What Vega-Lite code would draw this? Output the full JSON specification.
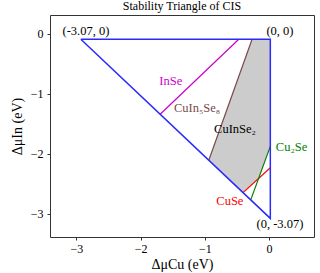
{
  "$schema": "https://vega.github.io/schema/vega-lite/v6.json",
  "autosize": "none",
  "width": 264,
  "height": 222,
  "padding": {"left": 50, "top": 15, "right": 6, "bottom": 36},
  "title": {"text": "Stability Triangle of CIS", "font": "Liberation Serif", "fontSize": 12, "fontWeight": "normal", "color": "#000", "offset": 2},
  "config": {"view": {"stroke": "#333", "strokeWidth": 1}, "font": "Liberation Serif"},
  "datasets": {
    "region": [
      {"x": -0.264, "y": -0.095, "o": 1},
      {"x": 0.02, "y": -0.095, "o": 2},
      {"x": 0.02, "y": -1.88, "o": 3},
      {"x": -0.16, "y": -2.411, "o": 4},
      {"x": -0.404, "y": -2.651, "o": 5},
      {"x": -0.938, "y": -2.11, "o": 6},
      {"x": -0.264, "y": -0.095, "o": 7}
    ],
    "lines": [
      {"seg": "InSe", "x": -1.695, "y": -1.345, "o": 1},
      {"seg": "InSe", "x": -0.471, "y": -0.095, "o": 2},
      {"seg": "CuIn5Se8", "x": -0.938, "y": -2.11, "o": 1},
      {"seg": "CuIn5Se8", "x": -0.264, "y": -0.095, "o": 2},
      {"seg": "CuSe", "x": -0.404, "y": -2.651, "o": 1},
      {"seg": "CuSe", "x": 0.02, "y": -2.235, "o": 2},
      {"seg": "Cu2Se", "x": -0.285, "y": -2.771, "o": 1},
      {"seg": "Cu2Se", "x": 0.02, "y": -1.88, "o": 2}
    ],
    "triangle": [
      {"x": -2.93, "y": -0.095, "o": 1},
      {"x": 0.02, "y": -0.095, "o": 2},
      {"x": 0.02, "y": -3.08, "o": 3},
      {"x": -2.93, "y": -0.095, "o": 4}
    ],
    "labels": [
      {"label": "(-3.07, 0)", "kind": "corner", "x": -2.85, "y": 0.04},
      {"label": "(0, 0)", "kind": "corner", "x": 0.17, "y": 0.04},
      {"label": "(0, -3.07)", "kind": "corner", "x": 0.17, "y": -3.18},
      {"label": "InSe", "kind": "InSe", "x": -1.53, "y": -0.795},
      {"label": "CuIn₅Se₈", "kind": "CuIn5Se8", "x": -1.12, "y": -1.245},
      {"label": "CuInSe₂", "kind": "CuInSe2", "x": -0.53, "y": -1.595},
      {"label": "Cu₂Se", "kind": "Cu2Se", "x": 0.35, "y": -1.89},
      {"label": "CuSe", "kind": "CuSe", "x": -0.61, "y": -2.79}
    ]
  },
  "layer": [
    {
      "data": {"name": "region"},
      "mark": {"type": "line", "fill": "#cccccc", "stroke": null, "strokeWidth": 0},
      "encoding": {
        "x": {"field": "x", "type": "quantitative", "scale": {"domain": [-3.41, 0.7], "nice": false, "zero": false},
              "axis": {"values": [-3, -2, -1, 0], "format": "d", "title": "ΔμCu (eV)", "titleFont": "Liberation Serif", "titleFontSize": 14, "titleFontWeight": "normal", "titleColor": "#000", "labelFont": "Liberation Serif", "labelFontSize": 12, "labelColor": "#000", "grid": false, "domain": false, "tickSize": 3, "tickColor": "#333", "labelPadding": 3, "titlePadding": 3}},
        "y": {"field": "y", "type": "quantitative", "scale": {"domain": [-3.39, 0.31], "nice": false, "zero": false},
              "axis": {"values": [-3, -2, -1, 0], "format": "d", "title": "ΔμIn (eV)", "titleFont": "Liberation Serif", "titleFontSize": 14, "titleFontWeight": "normal", "titleColor": "#000", "labelFont": "Liberation Serif", "labelFontSize": 12, "labelColor": "#000", "grid": false, "domain": false, "tickSize": 3, "tickColor": "#333", "labelPadding": 4, "titlePadding": 6}},
        "order": {"field": "o", "type": "quantitative"}
      }
    },
    {
      "data": {"name": "lines"},
      "mark": {"type": "line", "strokeWidth": 1.2},
      "encoding": {
        "x": {"field": "x", "type": "quantitative"},
        "y": {"field": "y", "type": "quantitative"},
        "detail": {"field": "seg"},
        "order": {"field": "o", "type": "quantitative"},
        "color": {"field": "seg", "type": "nominal", "legend": null,
                  "scale": {"domain": ["InSe", "CuIn5Se8", "CuSe", "Cu2Se", "CuInSe2", "corner"], "range": ["#cc00cc", "#7a4a4a", "#ff0000", "#008000", "#000000", "#000000"]}}
      }
    },
    {
      "data": {"name": "triangle"},
      "mark": {"type": "line", "strokeWidth": 1.5, "color": "#2a2aff"},
      "encoding": {
        "x": {"field": "x", "type": "quantitative"},
        "y": {"field": "y", "type": "quantitative"},
        "order": {"field": "o", "type": "quantitative"}
      }
    },
    {
      "data": {"name": "labels"},
      "mark": {"type": "text", "font": "Liberation Serif", "fontSize": 12.5, "align": "center", "baseline": "middle"},
      "encoding": {
        "x": {"field": "x", "type": "quantitative"},
        "y": {"field": "y", "type": "quantitative"},
        "text": {"field": "label"},
        "color": {"field": "kind", "type": "nominal", "legend": null}
      }
    }
  ]
}
